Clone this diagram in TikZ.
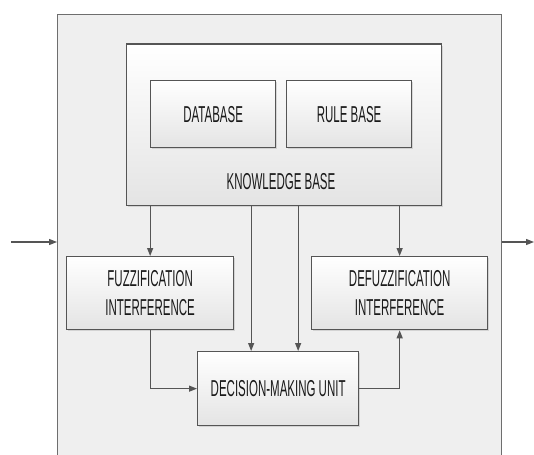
\documentclass[tikz,border=0pt]{standalone}
\usepackage{fontspec}
\setmainfont[FakeStretch=0.5]{Liberation Sans}
\usetikzlibrary{arrows.meta,shadows}
\definecolor{linegray}{HTML}{555555}
\definecolor{boxgray}{HTML}{E4E4E4}
\definecolor{bggray}{HTML}{EFEFEF}
\definecolor{txt}{HTML}{1A1A1A}
\begin{document}
\begin{tikzpicture}[x=1pt,y=-1pt,
  blk/.style={draw=linegray, line width=1.3pt, top color=white, bottom color=boxgray,
    align=center, inner sep=0pt, anchor=north west, text=txt,
    font=\fontsize{23}{28.5}\selectfont,
    drop shadow={opacity=0.25, shadow xshift=1.5pt, shadow yshift=-1.5pt}},
  lbl/.style={text=txt, inner sep=0pt, font=\fontsize{23}{28.5}\selectfont},
  conn/.style={draw=linegray, line width=1.2pt, -{Triangle[length=8pt,width=6pt]}}]
\useasboundingbox (0,0) rectangle (534,454);
\clip (0,0) rectangle (534,454);
\fill[white] (0,0) rectangle (534,454);
% system container
\node[draw=linegray!85, line width=1.2pt, fill=bggray, anchor=north west,
  minimum width=444pt, minimum height=480pt, inner sep=0pt] (sys) at (57,14) {};
% knowledge base
\node[blk, minimum width=315pt, minimum height=161pt] (kb) at (125.5,43.5) {};
\node[lbl] (kbtext) at (281,182) {KNOWLEDGE BASE};
\node[blk, minimum width=125pt, minimum height=67pt] (db) at (150,80) {DATABASE};
\node[blk, minimum width=125pt, minimum height=67pt] (rb) at (286,80) {RULE BASE};
% units
\node[blk, minimum width=167pt, minimum height=73pt] (fuzz) at (66,256) {FUZZIFICATION\\INTERFERENCE};
\node[blk, minimum width=176pt, minimum height=73pt] (defuzz) at (311,256) {DEFUZZIFICATION\\INTERFERENCE};
\node[blk, minimum width=161pt, minimum height=74pt] (dmu) at (197,351) {DECISION-MAKING UNIT};
% connectors
\draw[conn] (fuzz.north |- kb.south) -- (fuzz.north);
\draw[conn] (defuzz.north |- kb.south) -- (defuzz.north);
\draw[conn] ([xshift=-27pt]dmu.north |- kb.south) -- ([xshift=-27pt]dmu.north);
\draw[conn] ([xshift=20pt]dmu.north |- kb.south) -- ([xshift=20pt]dmu.north);
\draw[conn] (fuzz.south) |- (dmu.west);
\draw[conn] (dmu.east) -| (defuzz.south);
% input / output
\coordinate (inp) at (11,242);
\coordinate (outp) at (534,242);
\draw[conn] (inp) -- (inp -| sys.west);
\draw[conn] (outp -| sys.east) -- (outp);
\end{tikzpicture}
\end{document}
